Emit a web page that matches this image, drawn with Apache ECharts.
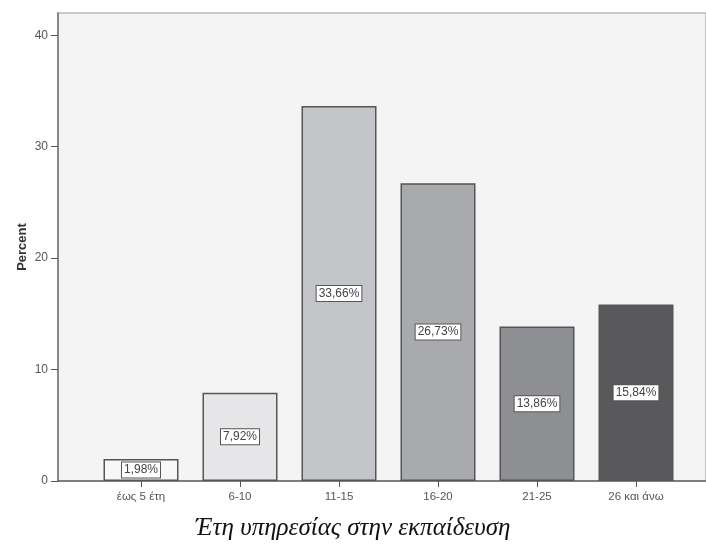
<!DOCTYPE html>
<html>
<head>
<meta charset="utf-8">
<script src="https://cdn.jsdelivr.net/npm/echarts@6/dist/echarts.min.js"></script>
<style>
  html, body { margin: 0; padding: 0; background: #ffffff; }
  #chart { width: 706px; height: 553px; }
</style>
</head>
<body>
<div id="chart"></div>
<script>
// Years of service in education — percent of respondents
const categories = ['έως 5 έτη', '6-10', '11-15', '16-20', '21-25', '26 και άνω'];
const percents = [1.98, 7.92, 33.66, 26.73, 13.86, 15.84];
const barColors = ['#f7f7f7', '#e6e6e8', '#c4c5c9', '#a9aaae', '#8e8f93', '#59595b'];
const yTicks = [0, 10, 20, 30, 40];

const chart = echarts.init(document.getElementById('chart'), null, { renderer: 'canvas' });

const font = 'Liberation Sans, Arial, sans-serif';

const option = {
  backgroundColor: '#ffffff',
  animation: false,
  title: {
    text: 'Έτη υπηρεσίας στην εκπαίδευση',
    left: 'center',
    top: 511,
    textStyle: {
      fontFamily: 'Liberation Serif, DejaVu Serif, serif',
      fontStyle: 'italic',
      fontWeight: 'normal',
      fontSize: 25,
      color: '#111111'
    }
  },
  grid: [
    { // frame with the value axis
      left: 58, top: 13, width: 660, height: 468,
      show: true, backgroundColor: '#f4f4f4',
      borderColor: '#9a9a9a', borderWidth: 1
    },
    { // band area holding the bars
      left: 91.5, top: 13, width: 594, height: 468
    }
  ],
  xAxis: [
    {
      gridIndex: 0, type: 'value', min: 0, max: 1,
      axisLine: { show: true, lineStyle: { color: '#666666', width: 1.5 } },
      axisTick: { show: false }, axisLabel: { show: false }, splitLine: { show: false }
    },
    {
      gridIndex: 1, type: 'category', data: categories,
      axisLine: { show: false },
      axisTick: { show: true, alignWithLabel: true, length: 6, lineStyle: { color: '#555555' } },
      axisLabel: { color: '#555555', fontFamily: font, fontSize: 11.5, margin: 10 },
      splitLine: { show: false }
    }
  ],
  yAxis: [
    {
      gridIndex: 0, type: 'value', min: 0, max: 42,
      name: 'Percent', nameLocation: 'middle', nameGap: 29, nameRotate: 90,
      nameMoveOverlap: false,
      nameTextStyle: { fontFamily: font, fontSize: 13, fontWeight: 'bold', color: '#333333' },
      axisLine: { show: true, lineStyle: { color: '#888888', width: 2 } },
      axisTick: { show: true, length: 7, customValues: yTicks, lineStyle: { color: '#555555' } },
      axisLabel: {
        color: '#555555', fontFamily: font, fontSize: 12, margin: 10,
        customValues: yTicks
      },
      splitLine: { show: false }
    },
    {
      gridIndex: 1, type: 'value', min: 0, max: 42, show: false
    }
  ],
  series: [
    {
      type: 'bar',
      xAxisIndex: 1, yAxisIndex: 1,
      barWidth: 75,
      data: percents.map((v, i) => ({
        value: v,
        itemStyle: { color: barColors[i] }
      })),
      itemStyle: { borderColor: '#555555', borderWidth: 1.5 },
      label: {
        show: true,
        position: 'inside',
        formatter: p => p.value.toFixed(2).replace('.', ',') + '%',
        fontFamily: font, fontSize: 12, color: '#444444',
        backgroundColor: '#ffffff',
        borderColor: '#555555', borderWidth: 1,
        padding: [2, 2, 1, 2]
      }
    }
  ]
};

chart.setOption(option);
</script>
</body>
</html>
